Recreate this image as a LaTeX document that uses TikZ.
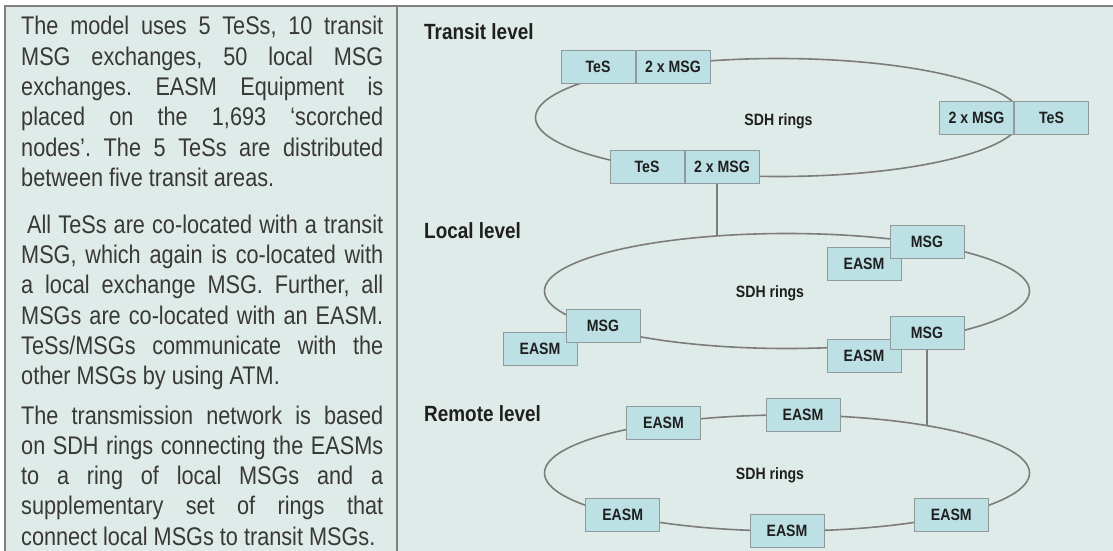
\documentclass[tikz,border=0pt]{standalone}
\usepackage{fontspec}
\setmainfont{Liberation Sans}[FakeStretch=0.85]
\newfontfamily\labelfont{Liberation Sans}[FakeStretch=0.86]
\definecolor{bgc}{HTML}{DFEBE8}
\definecolor{boxfill}{HTML}{BCE0E3}
\definecolor{boxline}{HTML}{8E9A9B}
\definecolor{ringline}{HTML}{7C7C7C}
\definecolor{framec}{HTML}{808080}
\definecolor{textgray}{HTML}{383838}
\newcommand\parafont{\frenchspacing\fontsize{25.5}{30.3}\selectfont}
\newcommand\lvlfont{\labelfont\bfseries\fontsize{22}{26}\selectfont}
\newcommand\cellfont{\labelfont\bfseries\fontsize{16.4}{19}\selectfont}
\newcommand\jline[1]{\makebox[362pt][s]{#1}}
\begin{document}
\begin{tikzpicture}[x=1pt,y=-1pt,
  cell/.style={draw=boxline, fill=boxfill, line width=1pt, minimum width=74pt, minimum height=33pt, inner sep=0pt, font=\cellfont, text=black!88},
  ring/.style={draw=ringline, line width=1.6pt},
  link/.style={draw=ringline, line width=1.6pt},
  lvl/.style={anchor=base west, inner sep=0pt, font=\lvlfont, text=black!88},
  sdh/.style={anchor=base, inner sep=0pt, font=\cellfont, text=black!88},
  para/.style={anchor=base west, inner sep=0pt, font=\parafont, text=textgray},
  framel/.style={draw=framec, line width=2pt}]
\useasboundingbox (0,0) rectangle (1113,551);
\fill[white] (0,0) rectangle (1113,551);
\fill[bgc] (4,6) rectangle (1113,551);
\draw[framel] (5,551) -- (5,6) -- (1113,6);
\draw[framel] (397,6) -- (397,551);

% left text
\node[para] (p1) at (21,35) {\jline{The model uses 5 TeSs, 10 transit}};
\node[para] (p2) at (21,65.3) {\jline{MSG exchanges, 50 local MSG}};
\node[para] (p3) at (21,95.6) {\jline{exchanges. EASM Equipment is}};
\node[para] (p4) at (21,125.9) {\jline{placed on the 1,693 `scorched}};
\node[para] (p5) at (21,156.2) {\jline{nodes'. The 5 TeSs are distributed}};
\node[para] (p6) at (21,186.5) {between five transit areas.};
\node[para] (p7) at (21,233.3) {\hspace*{6pt}\makebox[356pt][s]{All TeSs are co-located with a transit}};
\node[para] (p8) at (21,263.6) {\jline{MSG, which again is co-located with}};
\node[para] (p9) at (21,293.9) {\jline{a local exchange MSG. Further, all}};
\node[para] (p10) at (21,324.2) {\jline{MSGs are co-located with an EASM.}};
\node[para] (p11) at (21,354.5) {\jline{TeSs/MSGs communicate with the}};
\node[para] (p12) at (21,384.8) {other MSGs by using ATM.};
\node[para] (p13) at (21,424) {\jline{The transmission network is based}};
\node[para] (p14) at (21,454.3) {\jline{on SDH rings connecting the EASMs}};
\node[para] (p15) at (21,484.6) {\jline{to a ring of local MSGs and a}};
\node[para] (p16) at (21,514.9) {\jline{supplementary set of rings that}};
\node[para] (p17) at (21,545.2) {connect local MSGs to transit MSGs.};

% level labels
\node[lvl] (lt) at (424,40) {Transit level};
\node[lvl] (ll) at (424,238) {Local level};
\node[lvl] (lr) at (424,421.5) {Remote level};

% rings
\draw[ring] (778.5,117.5) ellipse [x radius=243pt, y radius=59pt];
\draw[ring] (787,291) ellipse [x radius=242.5pt, y radius=57.5pt];
\draw[ring] (787,473) ellipse [x radius=242.5pt, y radius=58pt];
\node[sdh] (s1) at (778.5,125) {SDH rings};
\node[sdh] (s2) at (770,297) {SDH rings};
\node[sdh] (s3) at (770,479) {SDH rings};

% connectors between levels
\coordinate (c1) at (717,236);
\coordinate (c2) at (927,425.6);

% transit level
\node[cell] (t1s) at (598,67) {TeS};
\node[cell, anchor=west] (t1m) at (t1s.east) {2 x MSG};
\node[cell] (t2m) at (976.5,118) {2 x MSG};
\node[cell, anchor=west] (t2s) at (t2m.east) {TeS};
\node[cell] (t3s) at (647,167) {TeS};
\node[cell, anchor=west] (t3m) at (t3s.east) {2 x MSG};
\draw[link] (t3m.south -| c1) -- (c1);

% local level
\node[cell] (le1) at (864,264.3) {EASM};
\node[cell] (lm1) at (927,241.7) {MSG};
\node[cell] (le2) at (540,349) {EASM};
\node[cell] (lm2) at (603,326) {MSG};
\node[cell] (le3) at (864,355.7) {EASM};
\node[cell] (lm3) at (927,332.7) {MSG};
\draw[link] (lm3.south) -- (c2);

% remote level
\node[cell] (r1) at (663.5,423.3) {EASM};
\node[cell] (r2) at (803,415.3) {EASM};
\node[cell] (r3) at (622.7,514.7) {EASM};
\node[cell] (r4) at (787,531) {EASM};
\node[cell] (r5) at (951.3,514.7) {EASM};
\end{tikzpicture}
\end{document}
